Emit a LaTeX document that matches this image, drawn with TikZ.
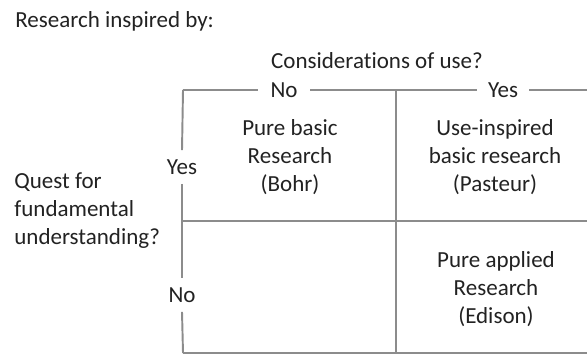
\documentclass[tikz,border=0pt]{standalone}
\usepackage{fontspec}
\setmainfont{Carlito}[Ligatures=NoCommon]
\usepackage{xcolor}
\usepackage{tikz}
\definecolor{gridLine}{HTML}{8C8C8C}
\definecolor{inkText}{HTML}{222222}

\begin{document}
\begin{tikzpicture}[
  x=0.02cm, y=-0.02cm,
  font=\fontsize{13.1pt}{15.9pt}\selectfont, text=inkText,
  cell/.style={align=center, inner sep=0pt},
  axislbl/.style={inner sep=0pt, minimum width=1.04cm, minimum height=0.66cm},
  grid/.style={draw=gridLine, line width=1.1pt}
]
\useasboundingbox (0,0) rectangle (587,355);
\coordinate (tl) at (183,90);
\coordinate (tm) at (396,90);
\coordinate (tr) at (587,90);
\coordinate (ml) at (183,221);
\coordinate (mr) at (587,221);
\coordinate (bl) at (183,353);
\coordinate (bm) at (396,353);
\coordinate (br) at (587,353);

\node[anchor=base west, inner sep=0pt] (title) at (15,27) {Research inspired by:};
\node[anchor=base, inner sep=0pt] (use) at (377,68) {Considerations\ of use?};
\node[axislbl] (colno) at (284,90) {No};
\node[axislbl] (colyes) at (503,90) {Yes};
\node[axislbl] (rowyes) at (182,167) {Yes};
\node[axislbl] (rowno) at (182,295) {No};
\node[cell, anchor=west, align=left] (quest) at (14,211) {Quest for\\fundamental\\understanding?};

\node[cell] (bohr) at (290,157) {Pure basic\\Research\\(Bohr)};
\node[cell] (pasteur) at (495,157) {Use-inspired\\basic research\\(Pasteur)};
\node[cell] (edison) at (496,289) {Pure applied\\Research\\(Edison)};

\draw[grid] (tl) -- (colno.west);
\draw[grid] (colno.east) -- (colyes.west);
\draw[grid] (colyes.east) -- (tr);
\draw[grid] (tl) -- (rowyes.north);
\draw[grid] (rowyes.south) -- (rowno.north);
\draw[grid] (rowno.south) -- (bl);
\draw[grid] (tm) -- (bm);
\draw[grid] (ml) -- (mr);
\draw[grid] (bl) -- (br);
\end{tikzpicture}
\end{document}
